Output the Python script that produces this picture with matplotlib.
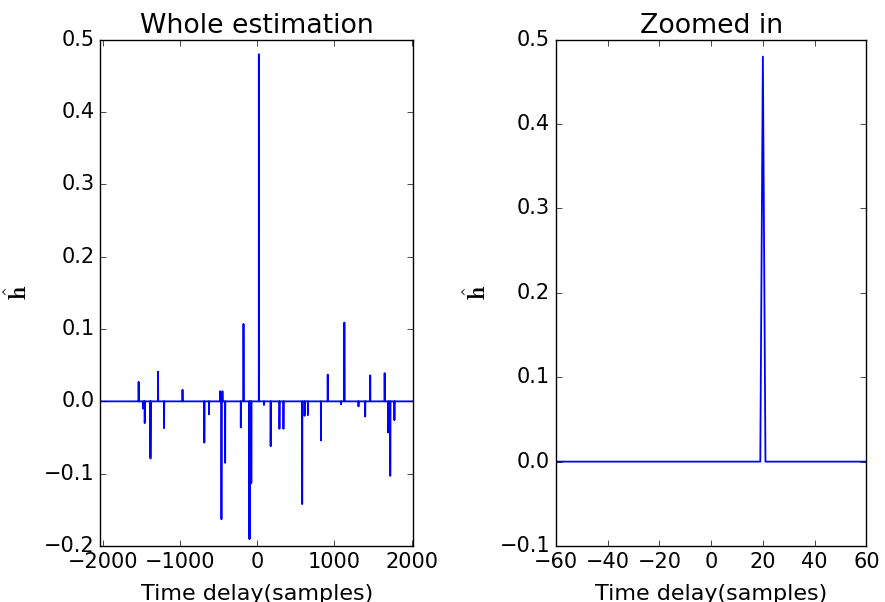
import numpy as np
import matplotlib
matplotlib.use("Agg")
import matplotlib.pyplot as plt

plt.style.use("classic")
plt.rcParams["mathtext.fontset"] = "cm"

# lag range of the whole estimate
lag_min = -2034
lag_max = 2017

# non-zero taps of the estimated impulse response (lag in samples, value)
spike_lags = [-1539, -1483, -1460, -1390, -1385, -1287, -1209, -970,
              -687, -626, -482, -465, -452, -417, -214, -179, -104,
              -100, -78, 20, 86, 173, 287, 339, 582, 613, 656, 825,
              913, 1086, 1129, 1312, 1399, 1464, 1651, 1695, 1724, 1778]
spike_vals = [0.027, -0.010, -0.030, -0.075, -0.079, 0.041, -0.037, 0.016,
              -0.057, -0.018, 0.014, -0.163, 0.014, -0.085, -0.036, 0.107,
              -0.190, -0.190, -0.113, 0.480, -0.005, -0.062, -0.038, -0.038,
              -0.142, -0.020, -0.019, -0.054, 0.037, -0.004, 0.109, -0.007,
              -0.021, 0.036, 0.039, -0.043, -0.103, -0.026]

lags = np.arange(lag_min, lag_max + 1)
h_hat = np.zeros(len(lags))
for l, v in zip(spike_lags, spike_vals):
    h_hat[l - lag_min] = v

fig = plt.figure(figsize=(8.85, 6.02), dpi=100, facecolor="white")
ax1 = fig.add_axes([0.1135, 0.093, 0.353, 0.841])
ax2 = fig.add_axes([0.628, 0.093, 0.351, 0.841])

ax1.plot(lags, h_hat, color="b", lw=1.3)
ax1.set_xlim(lag_min, lag_max)
ax1.set_ylim(-0.2, 0.5)
ax1.set_xticks([-2000, -1000, 0, 1000, 2000])
ax1.set_title("Whole estimation", fontsize=19.3)
ax1.set_ylabel(r"$\hat{\mathbf{h}}$", fontsize=17, labelpad=9)

zoom = (lags >= -60) & (lags <= 60)
ax2.plot(lags[zoom], h_hat[zoom], color="b", lw=1.3)
ax2.set_xlim(-60, 60)
ax2.set_ylim(-0.1, 0.5)
ax2.set_title("Zoomed in", fontsize=19.3)
ax2.set_ylabel(r"$\hat{\mathbf{h}}$", fontsize=17, labelpad=6)

for ax in (ax1, ax2):
    ax.set_xlabel("Time delay(samples)", fontsize=16, labelpad=9)
    ax.tick_params(labelsize=15)

fig.savefig("out.png", dpi=100, facecolor="white")
